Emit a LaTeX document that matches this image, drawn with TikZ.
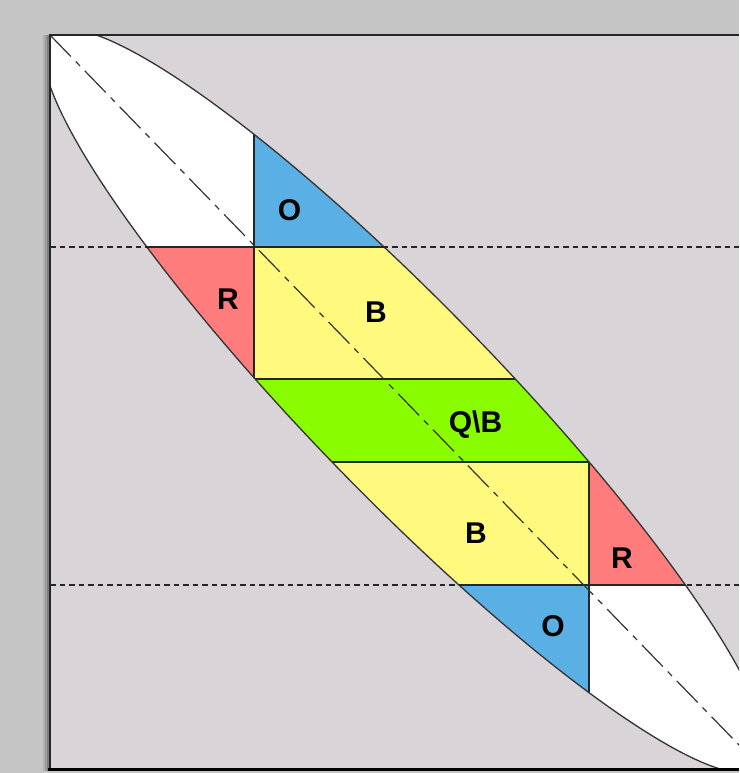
\documentclass[tikz,border=0pt]{standalone}
\usepackage{fontspec}
\setmainfont{Liberation Sans}
\definecolor{outergray}{RGB}{196,197,196}
\definecolor{panelgray}{RGB}{217,212,216}
\definecolor{oblue}{RGB}{90,176,228}
\definecolor{rred}{RGB}{255,124,124}
\definecolor{byellow}{RGB}{255,250,125}
\definecolor{qgreen}{RGB}{137,252,0}
\begin{document}
\begin{tikzpicture}[x=1pt,y=-1pt,
  lbl/.style={font=\bfseries\fontsize{30}{30}\selectfont, inner sep=0pt, anchor=base},
  sepline/.style={line width=1.4pt, draw=black!85},
  curveline/.style={line width=1.3pt, draw=black!80},
  levelline/.style={line width=1.2pt, draw=black!85, dash pattern=on 5.5pt off 4pt},
  axisline/.style={line width=1.2pt, draw=black!80, dash pattern=on 30pt off 7pt on 6pt off 7pt},
  lensrot/.style={rotate around={-45.85:(405.2,401)}}]
\useasboundingbox (0,0) rectangle (739,773);
\fill[outergray] (0,0) rectangle (739,773);
% panel shadow
\fill[black,opacity=0.10] (43,35) rectangle (50,771);
\fill[black,opacity=0.12] (45,35) rectangle (50,771);
\fill[black,opacity=0.18] (47,35) rectangle (50,771);
\fill[panelgray] (50,35) rectangle (739,769);
\begin{scope}
  \clip (50,35) rectangle (739,769);
  \fill[white, lensrot] (405.2,401) ellipse [x radius=510, y radius=95];
  \begin{scope}
    \clip[lensrot] (405.2,401) ellipse [x radius=510, y radius=95];
    \fill[oblue] (254,0) rectangle (800,247);
    \fill[rred] (0,247) rectangle (254,379);
    \fill[byellow] (254,247) rectangle (800,379);
    \fill[qgreen] (0,379) rectangle (800,462);
    \fill[byellow] (0,462) rectangle (589,585);
    \fill[rred] (589,462) rectangle (800,585);
    \fill[oblue] (0,585) rectangle (589,800);
    \draw[sepline] (0,247) -- (800,247);
    \draw[sepline] (0,379) -- (800,379);
    \draw[sepline] (0,462) -- (800,462);
    \draw[sepline] (0,585) -- (800,585);
    \draw[sepline] (254,0) -- (254,379);
    \draw[sepline] (589,462) -- (589,800);
  \end{scope}
  \draw[curveline, lensrot] (405.2,401) ellipse [x radius=510, y radius=95];
  \draw[levelline] (50,247) -- (739,247);
  \draw[levelline] (50,585) -- (739,585);
  \draw[axisline] (50,35) -- (739,745);
\end{scope}
% panel border
\draw[line width=1.3pt, black!85] (50,769) -- (50,35) -- (739,35);
\draw[line width=3pt, black] (48,769.5) -- (739,769.5);
% labels
\node[lbl] (otop) at (289.5,220) {O};
\node[lbl] (rtop) at (228,309) {R};
\node[lbl] (btop) at (376,322) {B};
\node[lbl] (qb) at (475.5,432) {Q\textbackslash B};
\node[lbl] (bbot) at (476,543) {B};
\node[lbl] (rbot) at (622,568) {R};
\node[lbl] (obot) at (553,636) {O};
\end{tikzpicture}
\end{document}
